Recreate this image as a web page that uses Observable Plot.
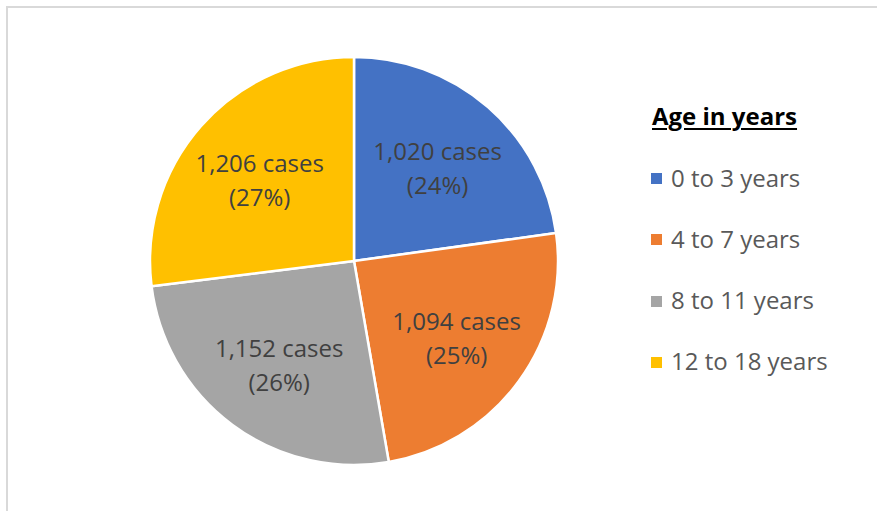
<!DOCTYPE html>
<html>
<head>
<meta charset="utf-8">
<script src="https://cdn.jsdelivr.net/npm/d3@7"></script>
<script src="https://cdn.jsdelivr.net/npm/@observablehq/plot@0.6"></script>
<style>
  html, body { margin: 0; padding: 0; background: #fff; }
  body { width: 877px; height: 511px; overflow: hidden; position: relative; font-family: "Open Sans", sans-serif; }
  #frame { position: absolute; left: 6px; top: 6px; width: 1000px; height: 1000px;
           border-left: 2px solid #d9d9d9; border-top: 2px solid #d9d9d9; box-sizing: border-box; }
  #chart { position: absolute; left: 0; top: 0; }
  #legend { position: absolute; left: 0; top: 0; width: 877px; height: 511px; pointer-events: none; }
  .ltitle { position: absolute; left: 652px; font-weight: 700; font-size: 24px; line-height: 30px; color: #000;
            text-decoration: underline; text-decoration-thickness: 2px; text-underline-offset: 3px; white-space: nowrap; }
  .litem { position: absolute; left: 651px; display: flex; align-items: center; height: 30px; font-size: 24px;
           line-height: 30px; color: #595959; white-space: nowrap; }
  .sw { width: 11px; height: 11px; margin-right: 9px; margin-top: 2px; flex: none; }
</style>
</head>
<body>
<div id="frame"></div>
<div id="chart"></div>
<div id="legend"></div>
<script>
const categories = ["0 to 3 years", "4 to 7 years", "8 to 11 years", "12 to 18 years"];
const cases = [1020, 1094, 1152, 1206];
const percents = [24, 25, 26, 27];
const colors = ["#4472C4", "#ED7D31", "#A5A5A5", "#FFC000"];
const legendTitle = "Age in years";

const data = categories.map((c, i) => ({category: c, cases: cases[i], pct: percents[i], color: colors[i]}));
const arcs = d3.pie().value(d => d.cases).sort(null)(data);
const labelR = 0.62;
const labels = arcs.map(a => {
  const m = (a.startAngle + a.endAngle) / 2;
  return {
    x: labelR * Math.sin(m),
    y: labelR * Math.cos(m),
    text: `${d3.format(",")(a.data.cases)} cases\n(${a.data.pct}%)`
  };
});

function pieMark(index, scales, values, dimensions) {
  const cx = scales.x(0), cy = scales.y(0);
  const R = scales.x(1) - cx;
  const arcGen = d3.arc().innerRadius(0).outerRadius(R);
  const g = d3.create("svg:g").attr("transform", `translate(${cx},${cy})`);
  g.selectAll("path").data(arcs).join("path")
    .attr("d", arcGen)
    .attr("fill", d => d.data.color)
    .attr("stroke", "#fff")
    .attr("stroke-width", 2.5)
    .attr("stroke-linejoin", "round");
  return g.node();
}

const plot = Plot.plot({
  width: 620,
  height: 511,
  margin: 0,
  x: {domain: [-1, 1], range: [150, 558], axis: null},
  y: {domain: [-1, 1], range: [465, 57], axis: null},
  style: {background: "transparent", fontFamily: "Open Sans, sans-serif", overflow: "visible"},
  marks: [
    pieMark,
    Plot.text(labels, {x: "x", y: "y", text: "text", fill: "#404040", fontSize: 24, lineHeight: 1.42})
  ]
});
document.getElementById("chart").appendChild(plot);

const legend = document.getElementById("legend");
const t = document.createElement("div");
t.className = "ltitle";
t.style.top = "100.5px";
t.textContent = legendTitle;
legend.appendChild(t);
categories.forEach((c, i) => {
  const row = document.createElement("div");
  row.className = "litem";
  row.style.top = (162.75 + i * 61.2) + "px";
  const sw = document.createElement("span");
  sw.className = "sw";
  sw.style.background = colors[i];
  row.appendChild(sw);
  const tx = document.createElement("span");
  tx.textContent = c;
  row.appendChild(tx);
  legend.appendChild(row);
});
</script>
</body>
</html>
